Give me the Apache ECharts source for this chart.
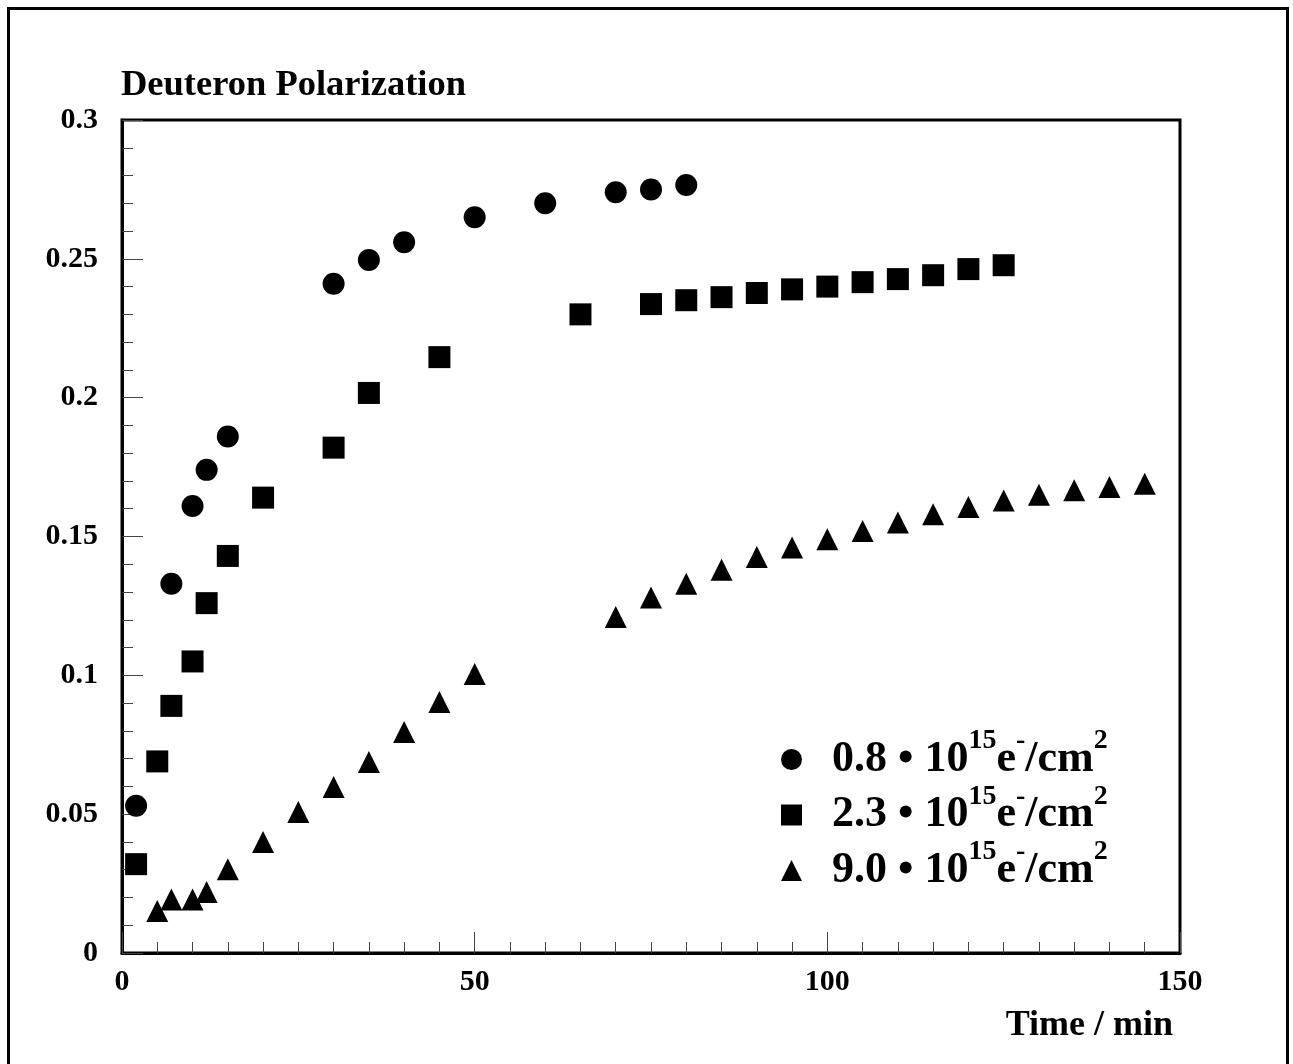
<!DOCTYPE html>
<html>
<head>
<meta charset="utf-8">
<title>Deuteron Polarization</title>
<script src="https://cdn.jsdelivr.net/npm/echarts@6.0.0/dist/echarts.min.js"></script>
<style>
  html, body { margin: 0; padding: 0; background: #fff; }
  #chart { width: 1293px; height: 1064px; }
</style>
</head>
<body>
<div id="chart"></div>
<script>
// data (time in min, polarization)
var legendNames = ['0.8', '2.3', '9.0'];

var timeCircle = [2, 7, 10, 12, 15, 30, 35, 40, 50, 60, 70, 75, 80];
var polCircle = [0.053, 0.133, 0.161, 0.174, 0.186, 0.241, 0.2496, 0.256, 0.265, 0.270, 0.274, 0.275, 0.2766];

var timeSquare = [2, 5, 7, 10, 12, 15, 20, 30, 35, 45, 65, 75, 80, 85, 90, 95, 100, 105, 110, 115, 120, 125];
var polSquare = [0.032, 0.069, 0.089, 0.105, 0.126, 0.143, 0.164, 0.182, 0.2017, 0.2146, 0.230, 0.2337, 0.2351, 0.2362, 0.2377, 0.239, 0.240, 0.2416, 0.2427, 0.2441, 0.2463, 0.2477];

var timeTri = [5, 7, 10, 12, 15, 20, 25, 30, 35, 40, 45, 50, 70, 75, 80, 85, 90, 95, 100, 105, 110, 115, 120, 125, 130, 135, 140, 145];
var polTri = [0.0151, 0.0193, 0.0193, 0.022, 0.0302, 0.040, 0.0508, 0.0598, 0.0688, 0.0796, 0.0904, 0.1005, 0.121, 0.128, 0.133, 0.138, 0.1426, 0.146, 0.149, 0.152, 0.155, 0.158, 0.1606, 0.163, 0.165, 0.1667, 0.1678, 0.169];

var xTicks = { min: 0, max: 150, interval: 50 };
var yTicks = { min: 0, max: 0.3, interval: 0.05 };

var font = 'Liberation Serif, Times New Roman, serif';

function pairs(xs, ys) {
    return xs.map(function (x, i) { return [x, ys[i]]; });
}

var chart = echarts.init(document.getElementById('chart'), null, { renderer: 'canvas' });

var axisCommon = {
    axisLine: { show: true, lineStyle: { color: '#000', width: 3 } },
    axisTick: { show: true, inside: true, length: 21, lineStyle: { color: '#444', width: 1 } },
    minorTick: { show: true, length: 11, lineStyle: { color: '#444', width: 1 } },
    splitLine: { show: false },
    axisLabel: { color: '#000', fontFamily: font, fontWeight: 'bold', fontSize: 30 }
};

var option = {
    backgroundColor: '#fff',
    animation: false,
    title: [
        {
            text: 'Deuteron Polarization',
            left: 121, top: 67, padding: 0,
            textStyle: { fontFamily: font, fontWeight: 'bold', fontSize: 36.5, color: '#000' }
        },
        {
            text: 'Time / min',
            right: 120, top: 1008, padding: 0,
            textStyle: { fontFamily: font, fontWeight: 'bold', fontSize: 36, color: '#000' }
        }
    ],
    graphic: [{
        type: 'rect',
        shape: { x: 8.5, y: 8.5, width: 1279, height: 1100 },
        style: { fill: 'none', stroke: '#000', lineWidth: 3 },
        silent: true
    }],
    grid: {
        left: 122, right: 113, top: 120, bottom: 111,
        show: true, borderColor: '#000', borderWidth: 3, backgroundColor: 'transparent'
    },
    legend: {
        orient: 'vertical',
        left: 781, top: 727, padding: 0,
        itemWidth: 21, itemHeight: 21,
        itemGap: 1,
        itemStyle: { color: '#000', opacity: 1 },
        formatter: function (name) {
            return '{sp|}{n|' + name + ' \u2022 10}{s|15}{n|e}{s|-}{n|/cm}{s|2}';
        },
        textStyle: {
            color: '#000', fontFamily: font, fontWeight: 'bold',
            rich: {
                sp: { width: 25 },
                n: { fontFamily: font, fontWeight: 'bold', fontSize: 44, lineHeight: 65, color: '#000' },
                s: { fontFamily: font, fontWeight: 'bold', fontSize: 28, lineHeight: 26, color: '#000', verticalAlign: 'top' }
            }
        },
        data: [
            { name: legendNames[0], icon: 'circle' },
            { name: legendNames[1], icon: 'rect' },
            { name: legendNames[2], icon: 'triangle' }
        ]
    },
    xAxis: Object.assign({}, axisCommon, {
        type: 'value',
        min: xTicks.min, max: xTicks.max, interval: xTicks.interval,
        minorTick: Object.assign({}, axisCommon.minorTick, { splitNumber: 10 }),
        axisLabel: Object.assign({}, axisCommon.axisLabel, { margin: 14 })
    }),
    yAxis: Object.assign({}, axisCommon, {
        type: 'value',
        min: yTicks.min, max: yTicks.max, interval: yTicks.interval,
        minorTick: Object.assign({}, axisCommon.minorTick, { splitNumber: 5 }),
        axisLabel: Object.assign({}, axisCommon.axisLabel, { margin: 24 })
    }),
    series: [
        {
            name: legendNames[0], type: 'scatter', symbol: 'circle', symbolSize: 22,
            itemStyle: { color: '#000', opacity: 1 },
            data: pairs(timeCircle, polCircle)
        },
        {
            name: legendNames[1], type: 'scatter', symbol: 'rect', symbolSize: 22,
            itemStyle: { color: '#000', opacity: 1 },
            data: pairs(timeSquare, polSquare)
        },
        {
            name: legendNames[2], type: 'scatter', symbol: 'triangle', symbolSize: 22,
            itemStyle: { color: '#000', opacity: 1 },
            data: pairs(timeTri, polTri)
        }
    ]
};

chart.setOption(option);
</script>
</body>
</html>
